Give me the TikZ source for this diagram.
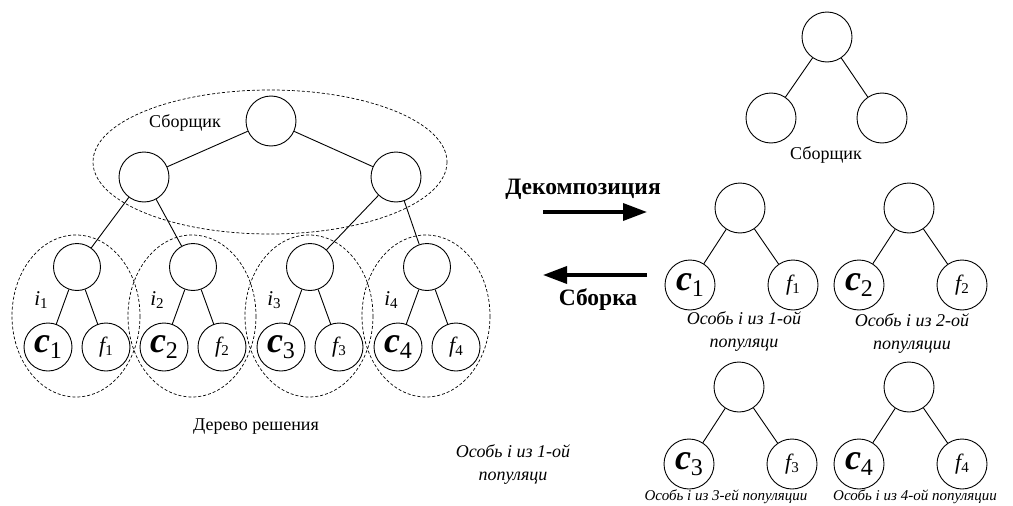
\documentclass[tikz,border=0pt]{standalone}
\usepackage{fontspec}
\setmainfont{Liberation Serif}
\usetikzlibrary{positioning,arrows.meta}

% gene labels: chromosome c_k and fitness f_k
\newcommand{\cgene}[1]{{\fontsize{36}{36}\selectfont\bfseries\itshape c}\raisebox{-6pt}{\fontsize{24}{24}\selectfont #1}}
\newcommand{\fgene}[1]{{\fontsize{22}{22}\selectfont\itshape f}\raisebox{-3pt}{\fontsize{15}{15}\selectfont #1}}
\newcommand{\ilabel}[1]{{\fontsize{21}{21}\selectfont\itshape i}\raisebox{-3pt}{\fontsize{15}{15}\selectfont #1}}

\begin{document}
\begin{tikzpicture}[x=1pt, y=-1pt,
	vertex/.style={circle, draw, line width=0.9pt, minimum size=50pt, inner sep=0pt},
	leaf/.style={vertex, minimum size=48pt},
	group/.style={draw, dashed, line width=0.7pt, dash pattern=on 3pt off 2pt},
	link/.style={line width=0.9pt},
	caption/.style={font=\fontsize{18}{20}\selectfont},
	note/.style={font=\fontsize{18}{23}\selectfont\itshape, align=center},
	smallnote/.style={font=\fontsize{15}{16}\selectfont\itshape},
	heading/.style={font=\fontsize{23.5}{24}\selectfont\bfseries},
	bigarrow/.style={line width=3.5pt, -{Triangle[length=24pt, width=17pt]}}]
	
	\useasboundingbox (0,0) rectangle (1013,506);
	
	% decision tree: assembler part
	\node [vertex] (root) at (271,121) {};
	\node [vertex] (asm-1) at (144,177) {};
	\node [vertex] (asm-2) at (396,177) {};
	\draw [group] (270,162) ellipse [x radius=177, y radius=72];
	\node [caption] (asm-label) at (185,123) {Сборщик};
	
	\draw [link] (root) -- (asm-1);
	\draw [link] (root) -- (asm-2);
	
	% decision tree: individuals
	\foreach \k [count=\i] in {77,193,310,427} {
		\node [vertex, minimum size=47pt] (ind-\i) at (\k,267) {};
		\node [leaf] (c-\i) at (\k-29,347) {\cgene{\i}};
		\node [leaf] (f-\i) at (\k+29,347) {\fgene{\i}};
		\node (i-\i) at (\k-36,300) {\ilabel{\i}};
		\draw [link] (ind-\i) -- (c-\i);
		\draw [link] (ind-\i) -- (f-\i);
		\draw [group] (\k-1,316) ellipse [x radius=64, y radius=81];
	}
	
	\draw [link] (asm-1) -- (ind-1);
	\draw [link] (asm-1) -- (ind-2);
	\draw [link] (asm-2) -- (ind-3);
	\draw [link] (asm-2) -- (ind-4);
	
	\node [caption] (tree-label) at (256,427) {Дерево решения};
	\node [note] (free-label) at (513,464) {Особь i из 1-ой\\популяци};
	
	% decomposition / assembly arrows
	\coordinate (dec-a) at (543,212);
	\coordinate (dec-b) at (647,212);
	\coordinate (asm-a) at (647,275);
	\coordinate (asm-b) at (543,275);
	\draw [bigarrow] (dec-a) -- (dec-b);
	\draw [bigarrow] (asm-a) -- (asm-b);
	\node [heading] (dec-label) at (583,189) {Декомпозиция};
	\node [heading] (asm-arrow-label) at (598,300) {Сборка};
	
	% separate assembler
	\node [vertex] (r-root) at (827,37) {};
	\node [vertex] (r-asm-1) at (771,118) {};
	\node [vertex] (r-asm-2) at (882,118) {};
	\draw [link] (r-root) -- (r-asm-1);
	\draw [link] (r-root) -- (r-asm-2);
	\node [caption] (r-asm-label) at (826,155) {Сборщик};
	
	% separate individuals
	\foreach \x/\y [count=\i] in {740/208, 909/208, 739/387, 909/387} {
		\node [vertex] (r-ind-\i) at (\x,\y) {};
		\node [vertex] (r-c-\i) at (\x-50,\y+77) {\cgene{\i}};
		\node [vertex] (r-f-\i) at (\x+53,\y+77) {\fgene{\i}};
		\draw [link] (r-ind-\i) -- (r-c-\i);
		\draw [link] (r-ind-\i) -- (r-f-\i);
	}
	
	\node [note] (pop-1) at (744,331) {Особь i из 1-ой\\популяци};
	\node [note] (pop-2) at (912,333) {Особь i из 2-ой\\популяции};
	\node [smallnote] (pop-3) at (726,497) {Особь i из 3-ей популяции};
	\node [smallnote] (pop-4) at (915,497) {Особь i из 4-ой популяции};
	
\end{tikzpicture}
\end{document}
